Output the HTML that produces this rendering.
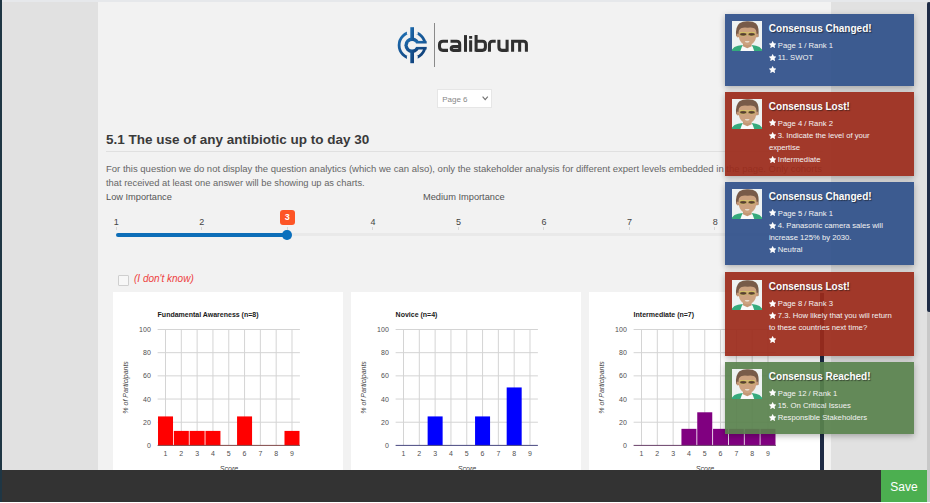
<!DOCTYPE html><html><head><meta charset="utf-8"><style>*{box-sizing:border-box;margin:0;padding:0}
html,body{width:930px;height:503px;overflow:hidden;background:#fff}
body{position:relative;font-family:"Liberation Sans",sans-serif;color:#555}
.abs{position:absolute}
svg text{font-family:"Liberation Sans",sans-serif}
#leftgray{left:0;top:0;width:98px;height:503px;background:#e1e1e1}
#leftdark{left:0;top:0;width:2px;height:502px;background:#1f3644}
#content{left:98px;top:0;width:733px;height:470px;background:#f2f2f2}
#rightgray{left:831px;top:0;width:96px;height:470px;background:#e1e1e1}
#topstrip{left:2px;top:0;width:928px;height:2px;background:#e6e8eb}
#sbtrack{left:927px;top:2px;width:3px;height:501px;background:#c8c8c8}
#sbthumb{left:927px;top:1.6px;width:4px;height:310.4px;background:#1e2b45;border-radius:2px}
#bottombar{left:2px;top:470px;width:925px;height:32px;background:#333}
#save{left:881px;top:470px;width:46px;height:32px;background:#4caf50;color:#fff;font-size:12px;line-height:35px;text-align:center}
#bottomwhite{left:0;top:502px;width:930px;height:1px;background:#fff}

#logoline{left:434px;top:23px;width:1px;height:44px;background:#8a8a8a}
#logotext{left:437px;top:28px;font-size:22px;font-weight:bold;color:#333;letter-spacing:0px;line-height:25px}

#select{left:437px;top:88.7px;width:55px;height:19.3px;background:#fff;border:1px solid #e6e6e6;font-size:8px;color:#888;line-height:19px;padding-left:4.2px}
#chev{left:482.2px;top:96px}

#heading{left:106px;top:132.2px;font-size:13.5px;font-weight:bold;color:#3a3a3a;white-space:nowrap}
#hr{left:106px;top:151px;width:717px;height:1px;background:#e0e0e0}
.para{left:106px;font-size:9.5px;color:#666;white-space:nowrap}

.slabel{position:absolute;top:216.8px;font-size:9px;color:#444;width:20px;margin-left:-10px;text-align:center}
.tick{position:absolute;top:226.8px;width:1px;height:3.5px;background:#d6d6d6}
#track{left:116px;top:233px;width:685px;height:3px;background:#e9e9e9;border-radius:1.5px}
#fill{left:116px;top:233px;width:171px;height:4px;background:#0d6eb8;border-radius:2px}
#handle{left:282.3px;top:229.5px;width:10px;height:10.5px;border-radius:50%;background:#0b70bd}
#bubble{left:279.7px;top:209.5px;width:15px;height:15.7px;border-radius:3px;background:#fd5526;color:#fff;font-size:9px;font-weight:bold;text-align:center;line-height:15.7px}

#chk{left:118px;top:275px;width:10.5px;height:10.5px;border:1px solid #cfcfcf;border-radius:1px;background:#f7f7f7}
#idk{left:134px;top:273px;font-size:10px;font-style:italic;color:#ee3e40;white-space:nowrap}

#navyline{left:820px;top:293px;width:3.5px;height:177px;background:#1e2b45}

.notif{position:absolute;left:725px;width:189px;opacity:.92;box-shadow:0 2px 6px rgba(0,0,0,.3);color:#f4f4f4}
.notif .av{position:absolute;left:7px;top:7.4px;width:30px;height:30px}
.notif .t{position:absolute;left:43.8px;top:9.3px;font-size:10px;font-weight:bold;text-shadow:1px 1px 1px rgba(0,0,0,.55);white-space:nowrap;color:#fff}
.notif .l{position:absolute;left:44px;font-size:7.7px;white-space:nowrap;line-height:9px}
.notif .st{position:absolute;left:0;top:0.8px}
.blue{background:#2f508a}
.red{background:#9c2a1a}
.green{background:#59824d}
</style></head><body>
<div id="leftgray" class="abs"></div>
<div id="content" class="abs"></div>
<div id="rightgray" class="abs"></div>
<div id="topstrip" class="abs"></div>
<div id="leftdark" class="abs"></div>
<div id="sbtrack" class="abs"></div>
<div id="sbthumb" class="abs"></div>

<svg class="abs" style="left:394px;top:24px" width="38" height="42" viewBox="0 0 38 42">
<defs><linearGradient id="lg" x1="0" y1="0" x2="0.6" y2="1"><stop offset="0" stop-color="#1f70b4"/><stop offset="1" stop-color="#12457f"/></linearGradient></defs>
<circle cx="18.1" cy="21.2" r="13" stroke-width="2.8" fill="none" stroke="url(#lg)"/>
<rect x="12.9" y="0" width="10.85" height="10.5" fill="#f2f2f2"/>
<rect x="12.9" y="31.9" width="10.85" height="11" fill="#f2f2f2"/>
<circle cx="18.1" cy="21.2" r="7.7" fill="url(#lg)"/>
<rect x="18.1" y="16.9" width="14.5" height="8.6" fill="url(#lg)"/>
<rect x="16.3" y="3.2" width="3.7" height="36" fill="url(#lg)"/>
<circle cx="18.1" cy="21.2" r="4.3" fill="#f2f2f2"/>
<rect x="18.1" y="19.5" width="17" height="3.4" fill="#f2f2f2"/>
</svg>
<div id="logoline" class="abs"></div>
<svg class="abs" style="left:436px;top:32px" width="96" height="24" viewBox="0 0 96 24"><g fill="none" stroke="#303030" stroke-width="3.05">
<path d="M12 9.3H7Q3.5 9.3 3.5 12.8V14.85Q3.5 18.35 7 18.35H12"/>
<path d="M14.5 9.3H20.7Q23.7 9.3 23.7 12.3V19.85"/>
<path d="M23.7 14.5H17.7Q15.2 14.5 15.2 16.5V16.35Q15.2 18.35 17.2 18.35H23.7"/>
<path d="M29.5 3.1V19.85"/>
<path d="M34.65 3.9V6.7M34.65 8.3V19.85"/>
<path d="M40.1 3.1V19.85M40.1 9.3H46.4Q49.4 9.3 49.4 12.3V15.35Q49.4 18.35 46.4 18.35H40.1"/>
<path d="M53.45 19.85V12.3Q53.45 9.3 56.45 9.3H59.7"/>
<path d="M62.9 7.8V15.35Q62.9 18.35 65.9 18.35H71.1M71.1 7.8V19.85"/>
<path d="M76.6 19.85V9.3H87.4Q90.4 9.3 90.4 12.3V19.85M83.65 9.3V19.85"/>
</g></svg>

<div id="select" class="abs">Page 6</div>
<svg id="chev" class="abs" width="7" height="5" viewBox="0 0 7 5"><path d="M0.6 0.7 L3.2 3.6 L5.8 0.7" fill="none" stroke="#707070" stroke-width="1.1"/></svg>

<div id="heading" class="abs">5.1 The use of any antibiotic up to day 30</div>
<div id="hr" class="abs"></div>
<div class="abs para" style="top:163.2px">For this question we do not display the question analytics (which we can also), only the stakeholder analysis for different expert levels embedded in the page. Only cohorts</div>
<div class="abs para" style="top:178.1px;font-size:9.35px">that received at least one answer will be showing up as charts.</div>
<div class="abs para" style="top:191.6px;color:#555;font-size:9.25px">Low Importance</div>
<div class="abs para" style="top:191.6px;left:423px;color:#555;font-size:9.25px">Medium Importance</div>

<div class="slabel" style="left:116.2px">1</div>
<div class="slabel" style="left:201.8px">2</div>
<div class="slabel" style="left:372.9px">4</div>
<div class="slabel" style="left:458.5px">5</div>
<div class="slabel" style="left:544px">6</div>
<div class="slabel" style="left:629.6px">7</div>
<div class="slabel" style="left:715.2px">8</div>
<div class="slabel" style="left:800.8px">9</div>
<div class="tick" style="left:116px"></div>
<div class="tick" style="left:201px"></div>
<div class="tick" style="left:287px"></div>
<div class="tick" style="left:372px"></div>
<div class="tick" style="left:458px"></div>
<div class="tick" style="left:543px"></div>
<div class="tick" style="left:629px"></div>
<div class="tick" style="left:714px"></div>
<div class="tick" style="left:800px"></div>

<div id="track" class="abs"></div>
<div id="fill" class="abs"></div>
<div id="handle" class="abs"></div>
<div id="bubble" class="abs">3</div>

<div id="chk" class="abs"></div>
<div id="idk" class="abs">(I don't know)</div>
<div class="abs" style="left:113px;top:292.4px;width:230px;height:177.6px;background:#fff"></div>
<div class="abs" style="left:351px;top:292.4px;width:230px;height:177.6px;background:#fff"></div>
<div class="abs" style="left:589px;top:292.4px;width:231px;height:177.6px;background:#fff"></div>

<svg class="abs" style="left:113px;top:293px" width="230" height="177" viewBox="0 0 230 177">
<rect x="0" y="0" width="230" height="177" fill="#fff"/>
<line x1="44.6" x2="186.9" y1="36.50" y2="36.50" stroke="#d4d4d4" stroke-width="1"/>
<text x="37.8" y="39.00" text-anchor="end" font-size="7" fill="#505050">100</text>
<line x1="44.6" x2="186.9" y1="59.68" y2="59.68" stroke="#d4d4d4" stroke-width="1"/>
<text x="37.8" y="62.18" text-anchor="end" font-size="7" fill="#505050">80</text>
<line x1="44.6" x2="186.9" y1="82.86" y2="82.86" stroke="#d4d4d4" stroke-width="1"/>
<text x="37.8" y="85.36" text-anchor="end" font-size="7" fill="#505050">60</text>
<line x1="44.6" x2="186.9" y1="106.04" y2="106.04" stroke="#d4d4d4" stroke-width="1"/>
<text x="37.8" y="108.54" text-anchor="end" font-size="7" fill="#505050">40</text>
<line x1="44.6" x2="186.9" y1="129.22" y2="129.22" stroke="#d4d4d4" stroke-width="1"/>
<text x="37.8" y="131.72" text-anchor="end" font-size="7" fill="#505050">20</text>
<text x="37.8" y="154.90" text-anchor="end" font-size="7" fill="#505050">0</text>
<line x1="52.51" x2="52.51" y1="36.50" y2="152.40" stroke="#d4d4d4" stroke-width="1"/>
<line x1="68.32" x2="68.32" y1="36.50" y2="152.40" stroke="#d4d4d4" stroke-width="1"/>
<line x1="84.13" x2="84.13" y1="36.50" y2="152.40" stroke="#d4d4d4" stroke-width="1"/>
<line x1="99.94" x2="99.94" y1="36.50" y2="152.40" stroke="#d4d4d4" stroke-width="1"/>
<line x1="115.75" x2="115.75" y1="36.50" y2="152.40" stroke="#d4d4d4" stroke-width="1"/>
<line x1="131.56" x2="131.56" y1="36.50" y2="152.40" stroke="#d4d4d4" stroke-width="1"/>
<line x1="147.37" x2="147.37" y1="36.50" y2="152.40" stroke="#d4d4d4" stroke-width="1"/>
<line x1="163.18" x2="163.18" y1="36.50" y2="152.40" stroke="#d4d4d4" stroke-width="1"/>
<line x1="178.99" x2="178.99" y1="36.50" y2="152.40" stroke="#d4d4d4" stroke-width="1"/>
<rect x="45.01" y="123.42" width="15" height="28.97" fill="#ff0000"/>
<text x="52.51" y="163.20" text-anchor="middle" font-size="7" fill="#505050">1</text>
<rect x="60.82" y="137.91" width="15" height="14.49" fill="#ff0000"/>
<text x="68.32" y="163.20" text-anchor="middle" font-size="7" fill="#505050">2</text>
<rect x="76.63" y="137.91" width="15" height="14.49" fill="#ff0000"/>
<text x="84.13" y="163.20" text-anchor="middle" font-size="7" fill="#505050">3</text>
<rect x="92.44" y="137.91" width="15" height="14.49" fill="#ff0000"/>
<text x="99.94" y="163.20" text-anchor="middle" font-size="7" fill="#505050">4</text>
<text x="115.75" y="163.20" text-anchor="middle" font-size="7" fill="#505050">5</text>
<rect x="124.06" y="123.42" width="15" height="28.97" fill="#ff0000"/>
<text x="131.56" y="163.20" text-anchor="middle" font-size="7" fill="#505050">6</text>
<text x="147.37" y="163.20" text-anchor="middle" font-size="7" fill="#505050">7</text>
<text x="163.18" y="163.20" text-anchor="middle" font-size="7" fill="#505050">8</text>
<rect x="171.49" y="137.91" width="15" height="14.49" fill="#ff0000"/>
<text x="178.99" y="163.20" text-anchor="middle" font-size="7" fill="#505050">9</text>
<line x1="44.6" x2="186.9" y1="152.39999999999998" y2="152.39999999999998" stroke="#804848" stroke-width="1"/>
<text x="44.6" y="23.8" font-size="7" font-weight="bold" fill="#1a1a1a">Fundamental Awareness (n=8)</text>
<text x="0" y="0" transform="translate(15,94.4) rotate(-90)" text-anchor="middle" font-size="7" font-style="italic" fill="#444">% of Participants</text>
<text x="116" y="178" text-anchor="middle" font-size="7" font-style="italic" fill="#444">Score</text>
</svg>
<svg class="abs" style="left:351px;top:293px" width="230" height="177" viewBox="0 0 230 177">
<rect x="0" y="0" width="230" height="177" fill="#fff"/>
<line x1="44.6" x2="186.9" y1="36.50" y2="36.50" stroke="#d4d4d4" stroke-width="1"/>
<text x="37.8" y="39.00" text-anchor="end" font-size="7" fill="#505050">100</text>
<line x1="44.6" x2="186.9" y1="59.68" y2="59.68" stroke="#d4d4d4" stroke-width="1"/>
<text x="37.8" y="62.18" text-anchor="end" font-size="7" fill="#505050">80</text>
<line x1="44.6" x2="186.9" y1="82.86" y2="82.86" stroke="#d4d4d4" stroke-width="1"/>
<text x="37.8" y="85.36" text-anchor="end" font-size="7" fill="#505050">60</text>
<line x1="44.6" x2="186.9" y1="106.04" y2="106.04" stroke="#d4d4d4" stroke-width="1"/>
<text x="37.8" y="108.54" text-anchor="end" font-size="7" fill="#505050">40</text>
<line x1="44.6" x2="186.9" y1="129.22" y2="129.22" stroke="#d4d4d4" stroke-width="1"/>
<text x="37.8" y="131.72" text-anchor="end" font-size="7" fill="#505050">20</text>
<text x="37.8" y="154.90" text-anchor="end" font-size="7" fill="#505050">0</text>
<line x1="52.51" x2="52.51" y1="36.50" y2="152.40" stroke="#d4d4d4" stroke-width="1"/>
<line x1="68.32" x2="68.32" y1="36.50" y2="152.40" stroke="#d4d4d4" stroke-width="1"/>
<line x1="84.13" x2="84.13" y1="36.50" y2="152.40" stroke="#d4d4d4" stroke-width="1"/>
<line x1="99.94" x2="99.94" y1="36.50" y2="152.40" stroke="#d4d4d4" stroke-width="1"/>
<line x1="115.75" x2="115.75" y1="36.50" y2="152.40" stroke="#d4d4d4" stroke-width="1"/>
<line x1="131.56" x2="131.56" y1="36.50" y2="152.40" stroke="#d4d4d4" stroke-width="1"/>
<line x1="147.37" x2="147.37" y1="36.50" y2="152.40" stroke="#d4d4d4" stroke-width="1"/>
<line x1="163.18" x2="163.18" y1="36.50" y2="152.40" stroke="#d4d4d4" stroke-width="1"/>
<line x1="178.99" x2="178.99" y1="36.50" y2="152.40" stroke="#d4d4d4" stroke-width="1"/>
<text x="52.51" y="163.20" text-anchor="middle" font-size="7" fill="#505050">1</text>
<text x="68.32" y="163.20" text-anchor="middle" font-size="7" fill="#505050">2</text>
<rect x="76.63" y="123.42" width="15" height="28.97" fill="#0000ff"/>
<text x="84.13" y="163.20" text-anchor="middle" font-size="7" fill="#505050">3</text>
<text x="99.94" y="163.20" text-anchor="middle" font-size="7" fill="#505050">4</text>
<text x="115.75" y="163.20" text-anchor="middle" font-size="7" fill="#505050">5</text>
<rect x="124.06" y="123.42" width="15" height="28.97" fill="#0000ff"/>
<text x="131.56" y="163.20" text-anchor="middle" font-size="7" fill="#505050">6</text>
<text x="147.37" y="163.20" text-anchor="middle" font-size="7" fill="#505050">7</text>
<rect x="155.68" y="94.45" width="15" height="57.95" fill="#0000ff"/>
<text x="163.18" y="163.20" text-anchor="middle" font-size="7" fill="#505050">8</text>
<text x="178.99" y="163.20" text-anchor="middle" font-size="7" fill="#505050">9</text>
<line x1="44.6" x2="186.9" y1="152.39999999999998" y2="152.39999999999998" stroke="#484880" stroke-width="1"/>
<text x="44.6" y="23.8" font-size="7" font-weight="bold" fill="#1a1a1a">Novice (n=4)</text>
<text x="0" y="0" transform="translate(15,94.4) rotate(-90)" text-anchor="middle" font-size="7" font-style="italic" fill="#444">% of Participants</text>
<text x="116" y="178" text-anchor="middle" font-size="7" font-style="italic" fill="#444">Score</text>
</svg>
<svg class="abs" style="left:589px;top:293px" width="230" height="177" viewBox="0 0 230 177">
<rect x="0" y="0" width="230" height="177" fill="#fff"/>
<line x1="44.6" x2="186.9" y1="36.50" y2="36.50" stroke="#d4d4d4" stroke-width="1"/>
<text x="37.8" y="39.00" text-anchor="end" font-size="7" fill="#505050">100</text>
<line x1="44.6" x2="186.9" y1="59.68" y2="59.68" stroke="#d4d4d4" stroke-width="1"/>
<text x="37.8" y="62.18" text-anchor="end" font-size="7" fill="#505050">80</text>
<line x1="44.6" x2="186.9" y1="82.86" y2="82.86" stroke="#d4d4d4" stroke-width="1"/>
<text x="37.8" y="85.36" text-anchor="end" font-size="7" fill="#505050">60</text>
<line x1="44.6" x2="186.9" y1="106.04" y2="106.04" stroke="#d4d4d4" stroke-width="1"/>
<text x="37.8" y="108.54" text-anchor="end" font-size="7" fill="#505050">40</text>
<line x1="44.6" x2="186.9" y1="129.22" y2="129.22" stroke="#d4d4d4" stroke-width="1"/>
<text x="37.8" y="131.72" text-anchor="end" font-size="7" fill="#505050">20</text>
<text x="37.8" y="154.90" text-anchor="end" font-size="7" fill="#505050">0</text>
<line x1="52.51" x2="52.51" y1="36.50" y2="152.40" stroke="#d4d4d4" stroke-width="1"/>
<line x1="68.32" x2="68.32" y1="36.50" y2="152.40" stroke="#d4d4d4" stroke-width="1"/>
<line x1="84.13" x2="84.13" y1="36.50" y2="152.40" stroke="#d4d4d4" stroke-width="1"/>
<line x1="99.94" x2="99.94" y1="36.50" y2="152.40" stroke="#d4d4d4" stroke-width="1"/>
<line x1="115.75" x2="115.75" y1="36.50" y2="152.40" stroke="#d4d4d4" stroke-width="1"/>
<line x1="131.56" x2="131.56" y1="36.50" y2="152.40" stroke="#d4d4d4" stroke-width="1"/>
<line x1="147.37" x2="147.37" y1="36.50" y2="152.40" stroke="#d4d4d4" stroke-width="1"/>
<line x1="163.18" x2="163.18" y1="36.50" y2="152.40" stroke="#d4d4d4" stroke-width="1"/>
<line x1="178.99" x2="178.99" y1="36.50" y2="152.40" stroke="#d4d4d4" stroke-width="1"/>
<text x="52.51" y="163.20" text-anchor="middle" font-size="7" fill="#505050">1</text>
<text x="68.32" y="163.20" text-anchor="middle" font-size="7" fill="#505050">2</text>
<text x="84.13" y="163.20" text-anchor="middle" font-size="7" fill="#505050">3</text>
<rect x="92.44" y="135.84" width="15" height="16.56" fill="#800080"/>
<text x="99.94" y="163.20" text-anchor="middle" font-size="7" fill="#505050">4</text>
<rect x="108.25" y="119.29" width="15" height="33.11" fill="#800080"/>
<text x="115.75" y="163.20" text-anchor="middle" font-size="7" fill="#505050">5</text>
<rect x="124.06" y="135.84" width="15" height="16.56" fill="#800080"/>
<text x="131.56" y="163.20" text-anchor="middle" font-size="7" fill="#505050">6</text>
<rect x="139.87" y="135.84" width="15" height="16.56" fill="#800080"/>
<text x="147.37" y="163.20" text-anchor="middle" font-size="7" fill="#505050">7</text>
<rect x="155.68" y="135.84" width="15" height="16.56" fill="#800080"/>
<text x="163.18" y="163.20" text-anchor="middle" font-size="7" fill="#505050">8</text>
<rect x="171.49" y="135.84" width="15" height="16.56" fill="#800080"/>
<text x="178.99" y="163.20" text-anchor="middle" font-size="7" fill="#505050">9</text>
<line x1="44.6" x2="186.9" y1="152.39999999999998" y2="152.39999999999998" stroke="#684068" stroke-width="1"/>
<text x="44.6" y="23.8" font-size="7" font-weight="bold" fill="#1a1a1a">Intermediate (n=7)</text>
<text x="0" y="0" transform="translate(15,94.4) rotate(-90)" text-anchor="middle" font-size="7" font-style="italic" fill="#444">% of Participants</text>
<text x="116" y="178" text-anchor="middle" font-size="7" font-style="italic" fill="#444">Score</text>
</svg>
<div id="navyline" class="abs"></div>
<div id="bottombar" class="abs"></div><div id="save" class="abs">Save</div><div id="bottomwhite" class="abs"></div>
<div class="abs notif blue" style="top:14px;height:71.5px">
<svg class="av" width="30" height="30" viewBox="0 0 30 30">
<rect width="30" height="30" fill="#eef3f2"/>
<path d="M8.3 30L9.6 25.6Q15.3 27.8 21 25.6L22.3 30Z" fill="#fafafa"/>
<path d="M11 21H19.6V25.2L15.3 27.3L11 25.2Z" fill="#c0906b"/>
<path d="M0 30V28.4Q2 25.6 6 24.8L10.9 23.9L9.7 26.2L8.4 30Z" fill="#26a472"/>
<path d="M30 30V28.4Q28 25.6 24 24.8L19.7 23.9L20.9 26.2L22.2 30Z" fill="#26a472"/>
<path d="M4.2 15Q3 6 7.5 2.2Q11 0 15.5 0.2Q21 0 24 2.5Q27.5 6 26.4 16L24 15.5L6 15.5Z" fill="#6e4f3b"/>
<ellipse cx="5.9" cy="14.4" rx="1.4" ry="2" fill="#bf8e69"/>
<ellipse cx="24.9" cy="14.4" rx="1.4" ry="2" fill="#bf8e69"/>
<path d="M6.6 11Q6.5 5 15.5 5Q24.4 5 24.4 11V14Q24.2 19 21 22.2Q18.5 24.2 15.5 24.2Q12.5 24.2 10 22.2Q6.8 19 6.6 14Z" fill="#c99c77"/>
<path d="M5.2 12Q5 5.5 9.5 3.6Q15 2.2 21.5 3.6Q26 5.5 25.8 12Q24.6 8.6 22.3 7.2Q19 6 15.7 6.8Q12.2 6 9 7.2Q6.4 8.6 5.2 12Z" fill="#6e4f3b"/>
<ellipse cx="11.2" cy="13.2" rx="3.5" ry="1.8" fill="#4b3023" stroke="#dccd58" stroke-width=".55"/>
<ellipse cx="19.6" cy="13.2" rx="3.5" ry="1.8" fill="#4b3023" stroke="#dccd58" stroke-width=".55"/>
<rect x="7.6" y="11.5" width="15.6" height=".6" fill="#dccd58"/>
<path d="M12.8 20.2H17.6Q17.2 21.6 15.2 21.6Q13.2 21.6 12.8 20.2Z" fill="#f3ece4"/>
</svg>
<div class="t">Consensus Changed!</div>
<div class="l" style="top:26.60px;left:43.7px"><svg class="st" width="7.3" height="7" viewBox="0 0 1664 1600"><path d="M1664 615q0 22-26 48l-363 354 86 500q1 7 1 20 0 21-10.5 35.5T1321 1587q-19 0-40-12l-449-236-449 236q-22 12-40 12-21 0-31.5-14.5T301 1537q0-6 2-20l86-500L25 663Q0 636 0 615q0-37 56-46l502-73L783 41q19-41 49-41t49 41l225 455 502 73q56 9 56 46z" fill="#fff"/></svg></div>
<div class="l" style="top:26.60px;left:52.8px">Page 1 / Rank 1</div>
<div class="l" style="top:38.75px;left:43.7px"><svg class="st" width="7.3" height="7" viewBox="0 0 1664 1600"><path d="M1664 615q0 22-26 48l-363 354 86 500q1 7 1 20 0 21-10.5 35.5T1321 1587q-19 0-40-12l-449-236-449 236q-22 12-40 12-21 0-31.5-14.5T301 1537q0-6 2-20l86-500L25 663Q0 636 0 615q0-37 56-46l502-73L783 41q19-41 49-41t49 41l225 455 502 73q56 9 56 46z" fill="#fff"/></svg></div>
<div class="l" style="top:38.75px;left:52.8px">11. SWOT</div>
<div class="l" style="top:50.90px;left:43.7px"><svg class="st" width="7.3" height="7" viewBox="0 0 1664 1600"><path d="M1664 615q0 22-26 48l-363 354 86 500q1 7 1 20 0 21-10.5 35.5T1321 1587q-19 0-40-12l-449-236-449 236q-22 12-40 12-21 0-31.5-14.5T301 1537q0-6 2-20l86-500L25 663Q0 636 0 615q0-37 56-46l502-73L783 41q19-41 49-41t49 41l225 455 502 73q56 9 56 46z" fill="#fff"/></svg></div>
<div class="l" style="top:50.90px;left:52.8px"></div>
</div>
<div class="abs notif red" style="top:92px;height:83.5px">
<svg class="av" width="30" height="30" viewBox="0 0 30 30">
<rect width="30" height="30" fill="#eef3f2"/>
<path d="M8.3 30L9.6 25.6Q15.3 27.8 21 25.6L22.3 30Z" fill="#fafafa"/>
<path d="M11 21H19.6V25.2L15.3 27.3L11 25.2Z" fill="#c0906b"/>
<path d="M0 30V28.4Q2 25.6 6 24.8L10.9 23.9L9.7 26.2L8.4 30Z" fill="#26a472"/>
<path d="M30 30V28.4Q28 25.6 24 24.8L19.7 23.9L20.9 26.2L22.2 30Z" fill="#26a472"/>
<path d="M4.2 15Q3 6 7.5 2.2Q11 0 15.5 0.2Q21 0 24 2.5Q27.5 6 26.4 16L24 15.5L6 15.5Z" fill="#6e4f3b"/>
<ellipse cx="5.9" cy="14.4" rx="1.4" ry="2" fill="#bf8e69"/>
<ellipse cx="24.9" cy="14.4" rx="1.4" ry="2" fill="#bf8e69"/>
<path d="M6.6 11Q6.5 5 15.5 5Q24.4 5 24.4 11V14Q24.2 19 21 22.2Q18.5 24.2 15.5 24.2Q12.5 24.2 10 22.2Q6.8 19 6.6 14Z" fill="#c99c77"/>
<path d="M5.2 12Q5 5.5 9.5 3.6Q15 2.2 21.5 3.6Q26 5.5 25.8 12Q24.6 8.6 22.3 7.2Q19 6 15.7 6.8Q12.2 6 9 7.2Q6.4 8.6 5.2 12Z" fill="#6e4f3b"/>
<ellipse cx="11.2" cy="13.2" rx="3.5" ry="1.8" fill="#4b3023" stroke="#dccd58" stroke-width=".55"/>
<ellipse cx="19.6" cy="13.2" rx="3.5" ry="1.8" fill="#4b3023" stroke="#dccd58" stroke-width=".55"/>
<rect x="7.6" y="11.5" width="15.6" height=".6" fill="#dccd58"/>
<path d="M12.8 20.2H17.6Q17.2 21.6 15.2 21.6Q13.2 21.6 12.8 20.2Z" fill="#f3ece4"/>
</svg>
<div class="t">Consensus Lost!</div>
<div class="l" style="top:26.60px;left:43.7px"><svg class="st" width="7.3" height="7" viewBox="0 0 1664 1600"><path d="M1664 615q0 22-26 48l-363 354 86 500q1 7 1 20 0 21-10.5 35.5T1321 1587q-19 0-40-12l-449-236-449 236q-22 12-40 12-21 0-31.5-14.5T301 1537q0-6 2-20l86-500L25 663Q0 636 0 615q0-37 56-46l502-73L783 41q19-41 49-41t49 41l225 455 502 73q56 9 56 46z" fill="#fff"/></svg></div>
<div class="l" style="top:26.60px;left:52.8px">Page 4 / Rank 2</div>
<div class="l" style="top:38.75px;left:43.7px"><svg class="st" width="7.3" height="7" viewBox="0 0 1664 1600"><path d="M1664 615q0 22-26 48l-363 354 86 500q1 7 1 20 0 21-10.5 35.5T1321 1587q-19 0-40-12l-449-236-449 236q-22 12-40 12-21 0-31.5-14.5T301 1537q0-6 2-20l86-500L25 663Q0 636 0 615q0-37 56-46l502-73L783 41q19-41 49-41t49 41l225 455 502 73q56 9 56 46z" fill="#fff"/></svg></div>
<div class="l" style="top:38.75px;left:52.8px">3. Indicate the level of your</div>
<div class="l" style="top:50.90px;left:43.9px">expertise</div>
<div class="l" style="top:63.05px;left:43.7px"><svg class="st" width="7.3" height="7" viewBox="0 0 1664 1600"><path d="M1664 615q0 22-26 48l-363 354 86 500q1 7 1 20 0 21-10.5 35.5T1321 1587q-19 0-40-12l-449-236-449 236q-22 12-40 12-21 0-31.5-14.5T301 1537q0-6 2-20l86-500L25 663Q0 636 0 615q0-37 56-46l502-73L783 41q19-41 49-41t49 41l225 455 502 73q56 9 56 46z" fill="#fff"/></svg></div>
<div class="l" style="top:63.05px;left:52.8px">Intermediate</div>
</div>
<div class="abs notif blue" style="top:182px;height:83.3px">
<svg class="av" width="30" height="30" viewBox="0 0 30 30">
<rect width="30" height="30" fill="#eef3f2"/>
<path d="M8.3 30L9.6 25.6Q15.3 27.8 21 25.6L22.3 30Z" fill="#fafafa"/>
<path d="M11 21H19.6V25.2L15.3 27.3L11 25.2Z" fill="#c0906b"/>
<path d="M0 30V28.4Q2 25.6 6 24.8L10.9 23.9L9.7 26.2L8.4 30Z" fill="#26a472"/>
<path d="M30 30V28.4Q28 25.6 24 24.8L19.7 23.9L20.9 26.2L22.2 30Z" fill="#26a472"/>
<path d="M4.2 15Q3 6 7.5 2.2Q11 0 15.5 0.2Q21 0 24 2.5Q27.5 6 26.4 16L24 15.5L6 15.5Z" fill="#6e4f3b"/>
<ellipse cx="5.9" cy="14.4" rx="1.4" ry="2" fill="#bf8e69"/>
<ellipse cx="24.9" cy="14.4" rx="1.4" ry="2" fill="#bf8e69"/>
<path d="M6.6 11Q6.5 5 15.5 5Q24.4 5 24.4 11V14Q24.2 19 21 22.2Q18.5 24.2 15.5 24.2Q12.5 24.2 10 22.2Q6.8 19 6.6 14Z" fill="#c99c77"/>
<path d="M5.2 12Q5 5.5 9.5 3.6Q15 2.2 21.5 3.6Q26 5.5 25.8 12Q24.6 8.6 22.3 7.2Q19 6 15.7 6.8Q12.2 6 9 7.2Q6.4 8.6 5.2 12Z" fill="#6e4f3b"/>
<ellipse cx="11.2" cy="13.2" rx="3.5" ry="1.8" fill="#4b3023" stroke="#dccd58" stroke-width=".55"/>
<ellipse cx="19.6" cy="13.2" rx="3.5" ry="1.8" fill="#4b3023" stroke="#dccd58" stroke-width=".55"/>
<rect x="7.6" y="11.5" width="15.6" height=".6" fill="#dccd58"/>
<path d="M12.8 20.2H17.6Q17.2 21.6 15.2 21.6Q13.2 21.6 12.8 20.2Z" fill="#f3ece4"/>
</svg>
<div class="t">Consensus Changed!</div>
<div class="l" style="top:26.60px;left:43.7px"><svg class="st" width="7.3" height="7" viewBox="0 0 1664 1600"><path d="M1664 615q0 22-26 48l-363 354 86 500q1 7 1 20 0 21-10.5 35.5T1321 1587q-19 0-40-12l-449-236-449 236q-22 12-40 12-21 0-31.5-14.5T301 1537q0-6 2-20l86-500L25 663Q0 636 0 615q0-37 56-46l502-73L783 41q19-41 49-41t49 41l225 455 502 73q56 9 56 46z" fill="#fff"/></svg></div>
<div class="l" style="top:26.60px;left:52.8px">Page 5 / Rank 1</div>
<div class="l" style="top:38.75px;left:43.7px"><svg class="st" width="7.3" height="7" viewBox="0 0 1664 1600"><path d="M1664 615q0 22-26 48l-363 354 86 500q1 7 1 20 0 21-10.5 35.5T1321 1587q-19 0-40-12l-449-236-449 236q-22 12-40 12-21 0-31.5-14.5T301 1537q0-6 2-20l86-500L25 663Q0 636 0 615q0-37 56-46l502-73L783 41q19-41 49-41t49 41l225 455 502 73q56 9 56 46z" fill="#fff"/></svg></div>
<div class="l" style="top:38.75px;left:52.8px">4. Panasonic camera sales will</div>
<div class="l" style="top:50.90px;left:43.9px">increase 125% by 2030.</div>
<div class="l" style="top:63.05px;left:43.7px"><svg class="st" width="7.3" height="7" viewBox="0 0 1664 1600"><path d="M1664 615q0 22-26 48l-363 354 86 500q1 7 1 20 0 21-10.5 35.5T1321 1587q-19 0-40-12l-449-236-449 236q-22 12-40 12-21 0-31.5-14.5T301 1537q0-6 2-20l86-500L25 663Q0 636 0 615q0-37 56-46l502-73L783 41q19-41 49-41t49 41l225 455 502 73q56 9 56 46z" fill="#fff"/></svg></div>
<div class="l" style="top:63.05px;left:52.8px">Neutral</div>
</div>
<div class="abs notif red" style="top:272.2px;height:83.4px">
<svg class="av" width="30" height="30" viewBox="0 0 30 30">
<rect width="30" height="30" fill="#eef3f2"/>
<path d="M8.3 30L9.6 25.6Q15.3 27.8 21 25.6L22.3 30Z" fill="#fafafa"/>
<path d="M11 21H19.6V25.2L15.3 27.3L11 25.2Z" fill="#c0906b"/>
<path d="M0 30V28.4Q2 25.6 6 24.8L10.9 23.9L9.7 26.2L8.4 30Z" fill="#26a472"/>
<path d="M30 30V28.4Q28 25.6 24 24.8L19.7 23.9L20.9 26.2L22.2 30Z" fill="#26a472"/>
<path d="M4.2 15Q3 6 7.5 2.2Q11 0 15.5 0.2Q21 0 24 2.5Q27.5 6 26.4 16L24 15.5L6 15.5Z" fill="#6e4f3b"/>
<ellipse cx="5.9" cy="14.4" rx="1.4" ry="2" fill="#bf8e69"/>
<ellipse cx="24.9" cy="14.4" rx="1.4" ry="2" fill="#bf8e69"/>
<path d="M6.6 11Q6.5 5 15.5 5Q24.4 5 24.4 11V14Q24.2 19 21 22.2Q18.5 24.2 15.5 24.2Q12.5 24.2 10 22.2Q6.8 19 6.6 14Z" fill="#c99c77"/>
<path d="M5.2 12Q5 5.5 9.5 3.6Q15 2.2 21.5 3.6Q26 5.5 25.8 12Q24.6 8.6 22.3 7.2Q19 6 15.7 6.8Q12.2 6 9 7.2Q6.4 8.6 5.2 12Z" fill="#6e4f3b"/>
<ellipse cx="11.2" cy="13.2" rx="3.5" ry="1.8" fill="#4b3023" stroke="#dccd58" stroke-width=".55"/>
<ellipse cx="19.6" cy="13.2" rx="3.5" ry="1.8" fill="#4b3023" stroke="#dccd58" stroke-width=".55"/>
<rect x="7.6" y="11.5" width="15.6" height=".6" fill="#dccd58"/>
<path d="M12.8 20.2H17.6Q17.2 21.6 15.2 21.6Q13.2 21.6 12.8 20.2Z" fill="#f3ece4"/>
</svg>
<div class="t">Consensus Lost!</div>
<div class="l" style="top:26.60px;left:43.7px"><svg class="st" width="7.3" height="7" viewBox="0 0 1664 1600"><path d="M1664 615q0 22-26 48l-363 354 86 500q1 7 1 20 0 21-10.5 35.5T1321 1587q-19 0-40-12l-449-236-449 236q-22 12-40 12-21 0-31.5-14.5T301 1537q0-6 2-20l86-500L25 663Q0 636 0 615q0-37 56-46l502-73L783 41q19-41 49-41t49 41l225 455 502 73q56 9 56 46z" fill="#fff"/></svg></div>
<div class="l" style="top:26.60px;left:52.8px">Page 8 / Rank 3</div>
<div class="l" style="top:38.75px;left:43.7px"><svg class="st" width="7.3" height="7" viewBox="0 0 1664 1600"><path d="M1664 615q0 22-26 48l-363 354 86 500q1 7 1 20 0 21-10.5 35.5T1321 1587q-19 0-40-12l-449-236-449 236q-22 12-40 12-21 0-31.5-14.5T301 1537q0-6 2-20l86-500L25 663Q0 636 0 615q0-37 56-46l502-73L783 41q19-41 49-41t49 41l225 455 502 73q56 9 56 46z" fill="#fff"/></svg></div>
<div class="l" style="top:38.75px;left:52.8px">7.3. How likely that you will return</div>
<div class="l" style="top:50.90px;left:43.9px">to these countries next time?</div>
<div class="l" style="top:63.05px;left:43.7px"><svg class="st" width="7.3" height="7" viewBox="0 0 1664 1600"><path d="M1664 615q0 22-26 48l-363 354 86 500q1 7 1 20 0 21-10.5 35.5T1321 1587q-19 0-40-12l-449-236-449 236q-22 12-40 12-21 0-31.5-14.5T301 1537q0-6 2-20l86-500L25 663Q0 636 0 615q0-37 56-46l502-73L783 41q19-41 49-41t49 41l225 455 502 73q56 9 56 46z" fill="#fff"/></svg></div>
<div class="l" style="top:63.05px;left:52.8px"></div>
</div>
<div class="abs notif green" style="top:362px;height:71.7px">
<svg class="av" width="30" height="30" viewBox="0 0 30 30">
<rect width="30" height="30" fill="#eef3f2"/>
<path d="M8.3 30L9.6 25.6Q15.3 27.8 21 25.6L22.3 30Z" fill="#fafafa"/>
<path d="M11 21H19.6V25.2L15.3 27.3L11 25.2Z" fill="#c0906b"/>
<path d="M0 30V28.4Q2 25.6 6 24.8L10.9 23.9L9.7 26.2L8.4 30Z" fill="#26a472"/>
<path d="M30 30V28.4Q28 25.6 24 24.8L19.7 23.9L20.9 26.2L22.2 30Z" fill="#26a472"/>
<path d="M4.2 15Q3 6 7.5 2.2Q11 0 15.5 0.2Q21 0 24 2.5Q27.5 6 26.4 16L24 15.5L6 15.5Z" fill="#6e4f3b"/>
<ellipse cx="5.9" cy="14.4" rx="1.4" ry="2" fill="#bf8e69"/>
<ellipse cx="24.9" cy="14.4" rx="1.4" ry="2" fill="#bf8e69"/>
<path d="M6.6 11Q6.5 5 15.5 5Q24.4 5 24.4 11V14Q24.2 19 21 22.2Q18.5 24.2 15.5 24.2Q12.5 24.2 10 22.2Q6.8 19 6.6 14Z" fill="#c99c77"/>
<path d="M5.2 12Q5 5.5 9.5 3.6Q15 2.2 21.5 3.6Q26 5.5 25.8 12Q24.6 8.6 22.3 7.2Q19 6 15.7 6.8Q12.2 6 9 7.2Q6.4 8.6 5.2 12Z" fill="#6e4f3b"/>
<ellipse cx="11.2" cy="13.2" rx="3.5" ry="1.8" fill="#4b3023" stroke="#dccd58" stroke-width=".55"/>
<ellipse cx="19.6" cy="13.2" rx="3.5" ry="1.8" fill="#4b3023" stroke="#dccd58" stroke-width=".55"/>
<rect x="7.6" y="11.5" width="15.6" height=".6" fill="#dccd58"/>
<path d="M12.8 20.2H17.6Q17.2 21.6 15.2 21.6Q13.2 21.6 12.8 20.2Z" fill="#f3ece4"/>
</svg>
<div class="t">Consensus Reached!</div>
<div class="l" style="top:26.60px;left:43.7px"><svg class="st" width="7.3" height="7" viewBox="0 0 1664 1600"><path d="M1664 615q0 22-26 48l-363 354 86 500q1 7 1 20 0 21-10.5 35.5T1321 1587q-19 0-40-12l-449-236-449 236q-22 12-40 12-21 0-31.5-14.5T301 1537q0-6 2-20l86-500L25 663Q0 636 0 615q0-37 56-46l502-73L783 41q19-41 49-41t49 41l225 455 502 73q56 9 56 46z" fill="#fff"/></svg></div>
<div class="l" style="top:26.60px;left:52.8px">Page 12 / Rank 1</div>
<div class="l" style="top:38.75px;left:43.7px"><svg class="st" width="7.3" height="7" viewBox="0 0 1664 1600"><path d="M1664 615q0 22-26 48l-363 354 86 500q1 7 1 20 0 21-10.5 35.5T1321 1587q-19 0-40-12l-449-236-449 236q-22 12-40 12-21 0-31.5-14.5T301 1537q0-6 2-20l86-500L25 663Q0 636 0 615q0-37 56-46l502-73L783 41q19-41 49-41t49 41l225 455 502 73q56 9 56 46z" fill="#fff"/></svg></div>
<div class="l" style="top:38.75px;left:52.8px">15. On Critical Issues</div>
<div class="l" style="top:50.90px;left:43.7px"><svg class="st" width="7.3" height="7" viewBox="0 0 1664 1600"><path d="M1664 615q0 22-26 48l-363 354 86 500q1 7 1 20 0 21-10.5 35.5T1321 1587q-19 0-40-12l-449-236-449 236q-22 12-40 12-21 0-31.5-14.5T301 1537q0-6 2-20l86-500L25 663Q0 636 0 615q0-37 56-46l502-73L783 41q19-41 49-41t49 41l225 455 502 73q56 9 56 46z" fill="#fff"/></svg></div>
<div class="l" style="top:50.90px;left:52.8px">Responsible Stakeholders</div>
</div>
</body></html>
